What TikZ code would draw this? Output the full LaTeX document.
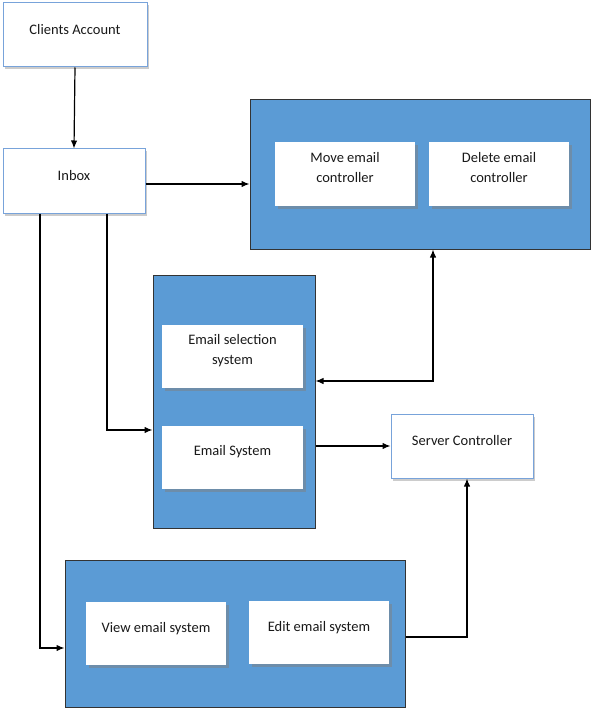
\documentclass[tikz,border=0pt]{standalone}
\usepackage{fontspec}
\setmainfont{Carlito}
\usetikzlibrary{arrows.meta,shadows,calc}
\definecolor{cblue}{RGB}{91,155,213}
\definecolor{lborder}{RGB}{120,163,218}
\begin{document}
\begin{tikzpicture}[x=1pt,y=-1pt,
  lbox/.style={draw=lborder,line width=1pt,fill=white,inner sep=0pt,
    drop shadow={shadow xshift=2pt,shadow yshift=-2.5pt,opacity=0.4}},
  wbox/.style={draw=none,fill=white,inner sep=0pt,
    drop shadow={shadow xshift=2.5pt,shadow yshift=-3pt,opacity=0.5}},
  cont/.style={draw=black!80,line width=1pt,fill=cblue,inner sep=0pt},
  txt/.style={font=\fontsize{14.5}{20}\selectfont,align=center,inner sep=0pt,text=black!90},
  conn/.style={line width=1.2pt,-{Latex[length=8pt,width=6.5pt]}}]
\useasboundingbox (0,0) rectangle (596,714);
% boxes
\node[lbox,minimum width=144pt,minimum height=64pt] (ca) at (75,35) {};
\node[txt] (tca) at (75,30) {Clients Account};
\node[lbox,minimum width=142pt,minimum height=64pt] (inbox) at (74,181) {};
\node[txt] (tinbox) at (74,176) {Inbox};
% top container
\node[cont,minimum width=340pt,minimum height=149pt] (top) at (420,174.5) {};
\node[wbox,minimum width=140pt,minimum height=64pt] (move) at (345,174) {};
\node[txt] (tmove) at (345,168) {Move email\\controller};
\node[wbox,minimum width=140pt,minimum height=64pt] (del) at (499,174) {};
\node[txt] (tdel) at (499,168) {Delete email\\controller};
% middle container
\node[cont,minimum width=162pt,minimum height=253pt] (mid) at (234,401.5) {};
\node[wbox,minimum width=141pt,minimum height=63pt] (sel) at (232.5,356.5) {};
\node[txt] (tsel) at (232.5,351) {Email selection\\system};
\node[wbox,minimum width=141pt,minimum height=63pt] (esys) at (232.5,457.5) {};
\node[txt] (tesys) at (232.5,452) {Email System};
% server
\node[lbox,minimum width=142pt,minimum height=64pt] (server) at (462,446) {};
\node[txt] (tserver) at (462,441) {Server Controller};
% bottom container
\node[cont,minimum width=340pt,minimum height=147pt] (bot) at (235,633.5) {};
\node[wbox,minimum width=140pt,minimum height=63pt] (view) at (156,633.5) {};
\node[txt] (tview) at (156,629) {View email system};
\node[wbox,minimum width=140pt,minimum height=63pt] (edit) at (319,632.5) {};
\node[txt] (tedit) at (319,628) {Edit email system};
% connectors
\draw[conn] (ca.south) -- (inbox.north);
\coordinate (ie) at ([yshift=-3pt]inbox.east);
\draw[conn] (ie) -- (ie -| top.west);
\draw[conn] ([xshift=33pt]inbox.south) |- ([yshift=-28.5pt]mid.west);
\draw[conn] ([xshift=-34pt]inbox.south) |- ([yshift=-14.5pt]bot.west);
\draw[conn,{Latex[length=8pt,width=6.5pt]}-{Latex[length=8pt,width=6.5pt]}] ([yshift=20.5pt]mid.east) -| ([xshift=13pt]top.south);
\draw[conn] (server.west -| mid.east) -- (server.west);
\draw[conn] ([yshift=-3.5pt]bot.east) -| ([xshift=5pt]server.south);
\end{tikzpicture}
\end{document}
